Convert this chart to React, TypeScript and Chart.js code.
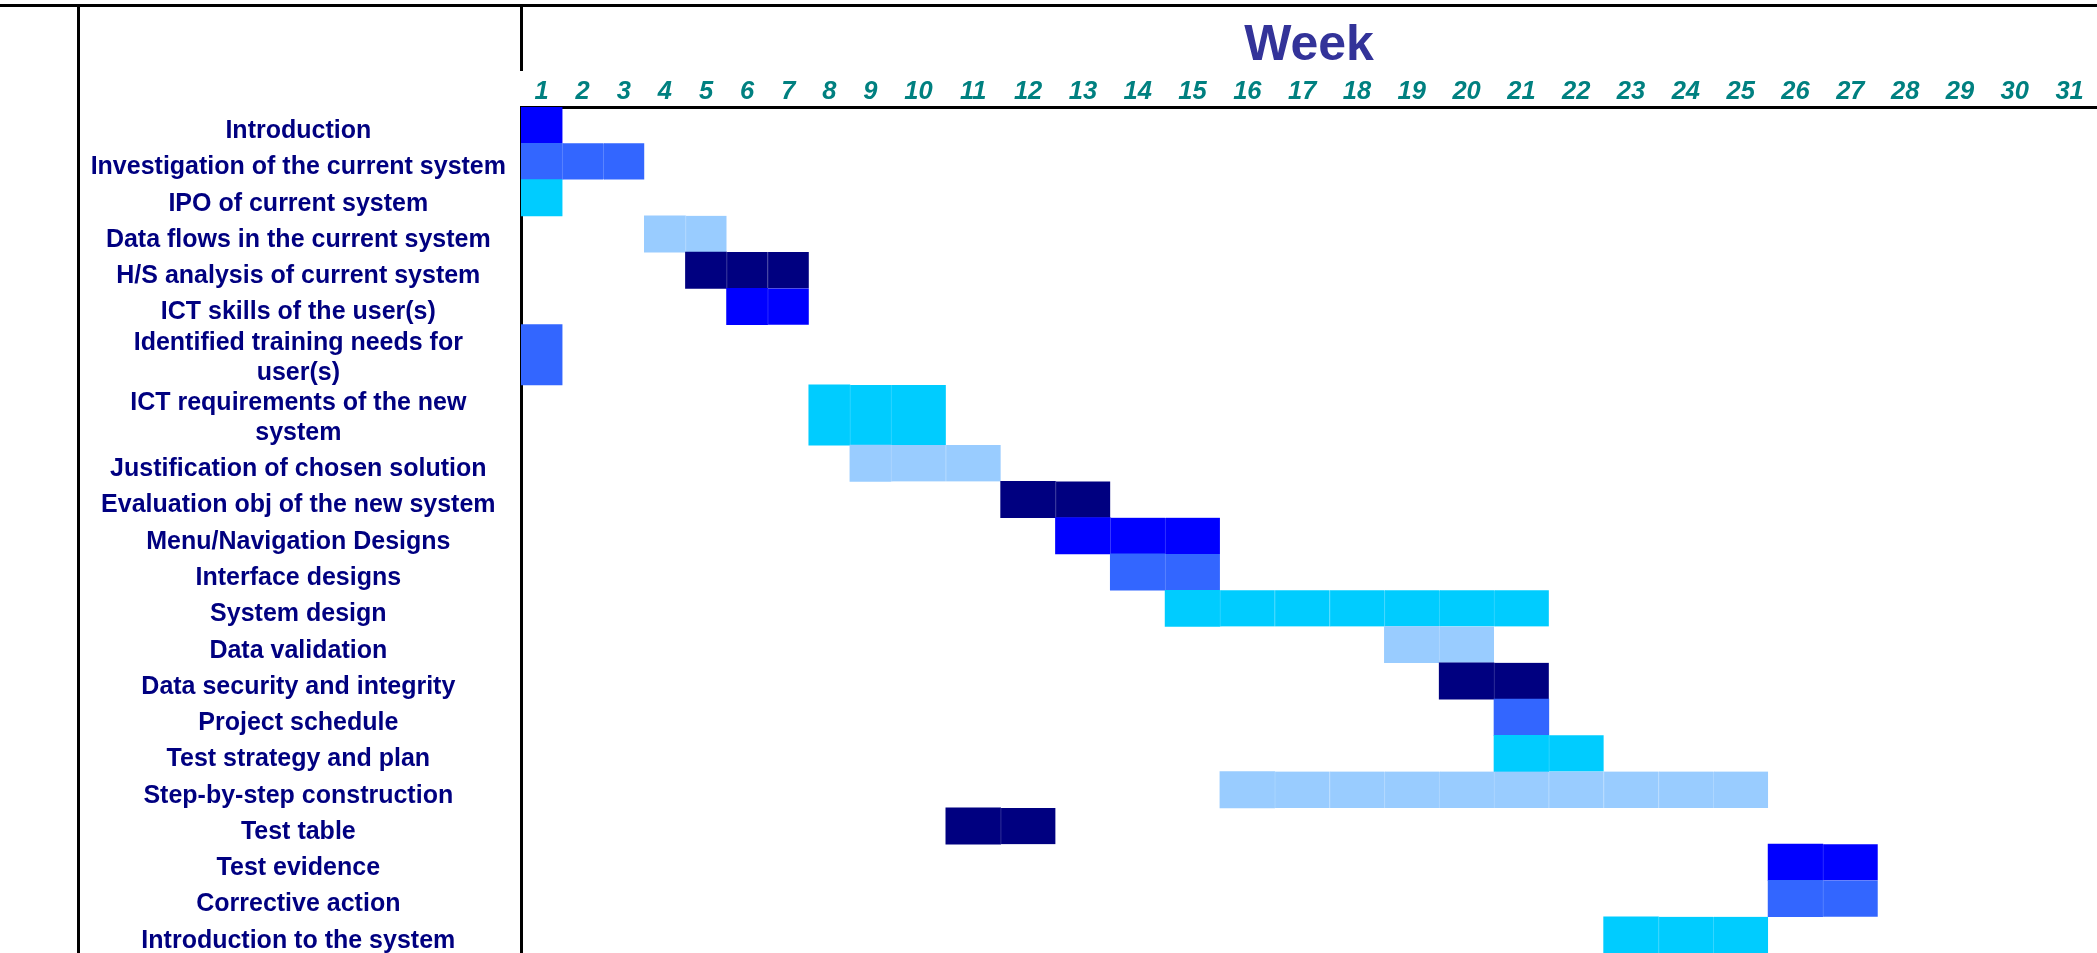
import React, { useEffect, useRef } from 'react';
import { Chart, registerables, LinearScale } from 'chart.js';

Chart.register(...registerables);

// ---------------- data ----------------
const TASK_LABELS: (string | string[])[] = [
  'Introduction',
  'Investigation of the current system',
  'IPO of current system',
  'Data flows in the current system',
  'H/S analysis of current system',
  'ICT skills of the user(s)',
  ['Identified training needs for', 'user(s)'],
  ['ICT requirements of the new', 'system'],
  'Justification of chosen solution',
  'Evaluation obj of the new system',
  'Menu/Navigation Designs',
  'Interface designs',
  'System design',
  'Data validation',
  'Data security and integrity',
  'Project schedule',
  'Test strategy and plan',
  'Step-by-step construction',
  'Test table',
  'Test evidence',
  'Corrective action',
  'Introduction to the system',
];

const START_WEEKS = [1, 1, 1, 4, 5, 6, 1, 8, 9, 12, 13, 14, 15, 19, 20, 21, 21, 16, 11, 26, 26, 23];
const END_WEEKS = [1, 3, 1, 5, 7, 7, 1, 10, 11, 13, 15, 15, 21, 20, 21, 21, 22, 25, 12, 27, 27, 25];

const TASK_COLORS = [
  '#0000FF', '#3366FF', '#00CCFF', '#99CCFF', '#000080', '#0000FF',
  '#3366FF', '#00CCFF', '#99CCFF', '#000080', '#0000FF', '#3366FF',
  '#00CCFF', '#99CCFF', '#000080', '#3366FF', '#00CCFF', '#99CCFF',
  '#000080', '#0000FF', '#3366FF', '#00CCFF',
];

const WEEK_LABELS = [
  '1', '2', '3', '4', '5', '6', '7', '8', '9', '10', '11', '12', '13', '14', '15', '16',
  '17', '18', '19', '20', '21', '22', '23', '24', '25', '26', '27', '28', '29', '30', '31',
];

const AXIS_TITLE = 'Week';

// ---------------- layout / style ----------------
const W = 2097;
const H = 953;
const FONT = "'Liberation Sans', Arial, Helvetica, sans-serif";
const NARROW_WEEKS = 9; // first columns are drawn narrower
const NARROW_RATIO = 0.75;
const WRAP_ROW_SCALE = 0.66; // extra height per wrapped label line
const WRAP_LABEL_NUDGE = 0.07; // wrapped labels sit a little higher

function weekToUnits(v: number) {
  return v <= NARROW_WEEKS ? v * NARROW_RATIO : NARROW_WEEKS * NARROW_RATIO + (v - NARROW_WEEKS);
}
function unitsToWeek(u: number) {
  const b = NARROW_WEEKS * NARROW_RATIO;
  return u <= b ? u / NARROW_RATIO : NARROW_WEEKS + (u - b);
}

class WeekScale extends LinearScale {
  static id = 'week';
  static defaults = {};
  getPixelForValue(value: any) {
    if (value === null || value === undefined || isNaN(value)) return NaN;
    const u0 = weekToUnits(this.min);
    const total = weekToUnits(this.max) - u0;
    return this.getPixelForDecimal((weekToUnits(value) - u0) / total);
  }
  getValueForPixel(pixel: number) {
    const u0 = weekToUnits(this.min);
    const total = weekToUnits(this.max) - u0;
    return unitsToWeek(this.getDecimalForPixel(pixel) * total + u0);
  }
}
Chart.register(WeekScale as any);

function tint(hex: string, amt: number) {
  const n = parseInt(hex.slice(1), 16);
  const r = (n >> 16) & 255, g = (n >> 8) & 255, b = n & 255;
  const m = (c: number) => Math.round(c + (255 - c) * amt);
  return `rgb(${m(r)},${m(g)},${m(b)})`;
}

const lineCounts = TASK_LABELS.map((l) => (Array.isArray(l) ? l.length : 1));
const rowWeights = lineCounts.map((n) => 1 + WRAP_ROW_SCALE * (n - 1));
const rowCenters: number[] = [];
let acc = 0;
rowWeights.forEach((w) => {
  rowCenters.push(acc + w / 2);
  acc += w;
});
const TOTAL_ROWS = acc;

function buildDatasets() {
  const classes = Array.from(new Set(rowWeights));
  return classes.map((wt) => {
    const cells: any[] = [];
    TASK_LABELS.forEach((_, i) => {
      if (rowWeights[i] !== wt) return;
      for (let w = START_WEEKS[i]; w <= END_WEEKS[i]; w++) {
        cells.push({ x: [w - 1, w], y: rowCenters[i], task: i, first: w === START_WEEKS[i] });
      }
    });
    return {
      data: cells,
      backgroundColor: cells.map((c) => TASK_COLORS[c.task]),
      borderColor: cells.map((c) => tint(TASK_COLORS[c.task], 0.22)),
      borderWidth: cells.map((c) => (c.first ? 0 : { left: 1, right: 0, top: 0, bottom: 0 })),
      borderSkipped: false,
      grouped: false,
      barThickness: (ctx: any) => {
        const y = ctx.chart.scales && ctx.chart.scales.y;
        if (!y) return undefined;
        return Math.abs(y.getPixelForValue(wt) - y.getPixelForValue(0));
      },
    };
  });
}

const framePlugin = {
  id: 'frame',
  afterDraw(chart: any) {
    const { ctx, chartArea } = chart;
    const y = chart.scales.y;
    ctx.save();
    ctx.strokeStyle = '#000';
    ctx.lineWidth = 3;
    ctx.lineCap = 'butt';
    // top rule
    ctx.beginPath();
    ctx.moveTo(0, 5.5);
    ctx.lineTo(chart.width, 5.5);
    ctx.stroke();
    // left rule (left edge of the task column)
    ctx.beginPath();
    ctx.moveTo(y.left + 0.5, 4);
    ctx.lineTo(y.left + 0.5, chart.height);
    ctx.stroke();
    // header part of the divider between tasks and weeks
    ctx.beginPath();
    ctx.moveTo(chartArea.left + 0.5, 4);
    ctx.lineTo(chartArea.left + 0.5, chartArea.top - 36);
    ctx.stroke();
    ctx.restore();
  },
};

export default function App() {
  const ref = useRef<HTMLCanvasElement>(null);
  useEffect(() => {
    const chart = new Chart(ref.current as HTMLCanvasElement, {
      type: 'bar',
      data: { datasets: buildDatasets() as any },
      options: {
        indexAxis: 'y',
        responsive: false,
        animation: false,
        devicePixelRatio: 1,
        events: [],
        layout: { padding: { left: 78, top: 0, right: 0, bottom: 0 } },
        plugins: { legend: { display: false }, tooltip: { enabled: false }, title: { display: false } },
        scales: {
          x: {
            type: 'week' as any,
            position: 'top',
            min: 0,
            max: WEEK_LABELS.length,
            offset: false,
            z: 1,
            grid: { display: false, drawTicks: false, offset: false },
            border: { display: true, color: '#000', width: 3 },
            afterBuildTicks: (s: any) => {
              s.ticks = WEEK_LABELS.map((_, i) => ({ value: i + 0.5 }));
            },
            ticks: {
              autoSkip: false,
              maxRotation: 0,
              minRotation: 0,
              padding: 0,
              color: '#008080',
              font: { family: FONT, size: 25.5, weight: 'bold', style: 'italic' },
              callback: (_v: any, i: number) => WEEK_LABELS[i],
            },
            title: {
              display: true,
              text: AXIS_TITLE,
              color: '#333399',
              font: { family: FONT, size: 50, weight: 'bold' },
              padding: { top: 16.5, bottom: 0 },
            },
            afterFit: (s: any) => {
              s.height = 107;
              s.paddingLeft = 0;
              s.paddingRight = 0;
            },
          } as any,
          y: {
            type: 'linear',
            position: 'left',
            reverse: true,
            min: 0,
            max: TOTAL_ROWS,
            bounds: 'data',
            offset: false,
            z: 1,
            grid: { display: false, drawTicks: false, offset: false },
            border: { display: true, color: '#000', width: 3 },
            afterBuildTicks: (s: any) => {
              s.ticks = rowCenters.map((v, i) => ({ value: v - WRAP_LABEL_NUDGE * (lineCounts[i] - 1) }));
            },
            ticks: {
              autoSkip: false,
              padding: 15,
              crossAlign: 'center',
              labelOffset: 6,
              color: '#000080',
              font: { family: FONT, size: 25, weight: 'bold', lineHeight: 1.2 },
              callback: (_v: any, i: number) => TASK_LABELS[i],
            },
            afterFit: (s: any) => {
              s.width = 443;
              s.paddingTop = 0;
              s.paddingBottom = 0;
            },
          } as any,
        },
      } as any,
      plugins: [framePlugin],
    });
    return () => chart.destroy();
  }, []);

  return (
    <div style={{ position: 'fixed', left: 0, top: 0, width: W, height: H, background: '#fff' }}>
      <canvas ref={ref} width={W} height={H} style={{ display: 'block', width: W, height: H }} />
    </div>
  );
}
